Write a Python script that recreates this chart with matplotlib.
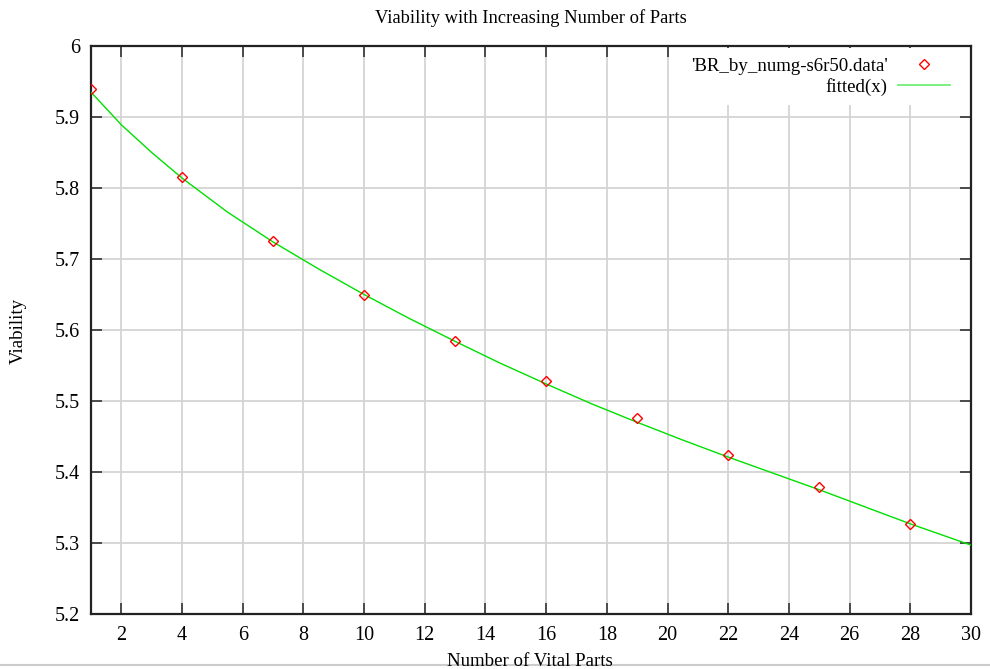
import matplotlib
matplotlib.use("Agg")
import matplotlib.pyplot as plt
from matplotlib.lines import Line2D

# data
parts = [1, 4, 7, 10, 13, 16, 19, 22, 25, 28]
viability = [5.939, 5.815, 5.725, 5.649, 5.584, 5.528, 5.476, 5.424, 5.379, 5.327]

fit_x = [1, 2, 3, 4, 5.5, 7, 8.5, 10, 11.5, 13, 14.5, 16, 17.5, 19,
         20.5, 22, 23.5, 25, 26.5, 28, 29, 30]
fit_y = [5.935, 5.889, 5.850, 5.814, 5.766, 5.724, 5.686, 5.650, 5.616,
         5.584, 5.553, 5.524, 5.496, 5.470, 5.445, 5.421, 5.398, 5.375,
         5.351, 5.327, 5.312, 5.297]

xticks = list(range(2, 31, 2))
yticks = [5.2, 5.3, 5.4, 5.5, 5.6, 5.7, 5.8, 5.9, 6.0]
ytick_labels = ["5.2", "5.3", "5.4", "5.5", "5.6", "5.7", "5.8", "5.9", "6"]

plt.rcParams["font.family"] = ["Liberation Serif", "DejaVu Serif"]

W, H = 990, 669
fig = plt.figure(figsize=(W / 100, H / 100), dpi=100)
ax = fig.add_axes([91 / W, 1 - 614 / H, (971 - 91) / W, (614 - 46) / H])

ax.plot(fit_x, fit_y, color="#00e000", lw=1.0, zorder=3)
ax.plot(parts, viability, linestyle="none", marker="D", markersize=5.5,
        markerfacecolor="none", markeredgecolor="#ff0000",
        markeredgewidth=1.0, zorder=4)

ax.set_xlim(1, 30)
ax.set_ylim(5.2, 6.0)
ax.set_xticks(xticks)
ax.set_yticks(yticks)
ax.set_yticklabels(ytick_labels)
ax.tick_params(direction="in", length=8, width=1.2, top=True, right=True,
               labelsize=14.5, color="#333333", pad=8)
ax.tick_params(axis="x", pad=9)
ax.grid(True, color="#d4d4d4", lw=1.3)
ax.set_axisbelow(True)
for sp in ax.spines.values():
    sp.set_linewidth(1.6)
    sp.set_color("#222222")

handles = [
    Line2D([], [], linestyle="none", marker="D", markersize=5.5,
           markerfacecolor="none", markeredgecolor="#ff0000", markeredgewidth=1.0),
    Line2D([], [], color="#66ee66", lw=1.2),
]
leg = ax.legend(handles, ["'BR_by_numg-s6r50.data'", "fitted(x)"],
                loc="upper right", bbox_to_anchor=(0.987, 0.996), markerfirst=False,
                frameon=True, fontsize=13.6, handlelength=2.75, labelspacing=0.15,
                handletextpad=0.55, borderpad=0.5, borderaxespad=0.0)
leg.get_frame().set_edgecolor("none")
leg.get_frame().set_facecolor("white")
leg.get_frame().set_alpha(1.0)
# above the grid, below the axes frame and ticks
leg.set_zorder(2.4)

fig.text(531 / W, 1 - 18 / H, "Viability with Increasing Number of Parts",
         ha="center", va="center", fontsize=13.3)
fig.text(18 / W, 1 - 331 / H, "Viability", ha="center", va="center",
         rotation=90, fontsize=13.6)
fig.text(530 / W, 1 - 661 / H, "Number of Vital Parts", ha="center",
         va="center", fontsize=13.6)
fig.add_artist(Line2D([0, 1], [1 - 665 / H, 1 - 665 / H], color="#cccccc",
                      lw=1.5, transform=fig.transFigure))

fig.savefig("out.png", dpi=100)
